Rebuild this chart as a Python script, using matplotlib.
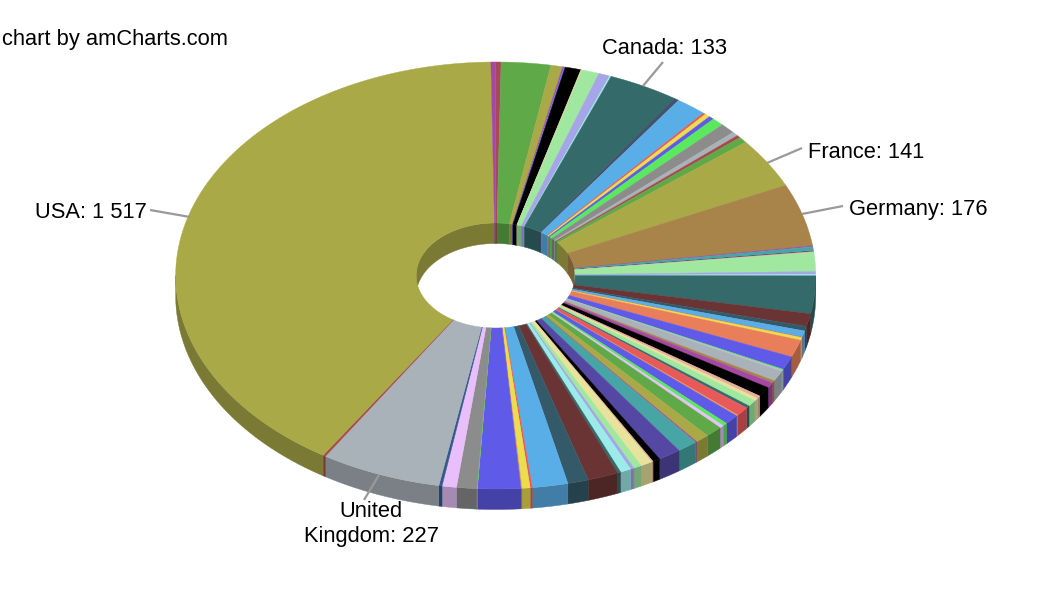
import numpy as np
import matplotlib
matplotlib.use("Agg")
import matplotlib.pyplot as plt
from matplotlib.colors import to_rgb

plt.rcParams['font.family'] = ['Liberation Sans', 'DejaVu Sans']

values = [10, 93, 22, 3, 2, 30, 2, 33, 21, 3, 133, 9, 58, 5, 10, 10, 23, 29, 12, 7, 17, 141, 176,
          3, 12, 1, 3, 53, 8, 4, 106, 36, 13, 18, 1, 8, 49, 38, 3, 3, 30, 7, 15, 28, 8, 8, 18, 7, 26, 3,
          28, 9, 8, 32, 26, 3, 38, 43, 14, 3, 22, 15, 7, 20, 6, 58, 39, 67, 4, 15, 2, 81, 1, 38, 27, 6,
          227, 5, 1517, 9]
colors = ['#A9485C', '#5FA948', '#A9A948', '#A94FA0', '#5F7AE8', '#000000', '#F0D8A0', '#A0E8A0', '#A5A5E8', '#9CEBE8',
          '#346A6A', '#45506A', '#5AAEE8', '#E85A5A', '#EBDD4D', '#5F5AE8', '#5AE85F', '#8C8C8C', '#AAB2B9', '#A94848',
          '#5FA948', '#A9A948', '#A8844A',
          '#A548A5', '#48A5A5', '#232350', '#E8AF9C', '#A0E8A0', '#A5A5E8', '#9CEBE8', '#346A6A', '#6A3434', '#345A6A',
          '#5AAEE8', '#E85A5A', '#EBDD4D', '#E87F5A', '#5F5AE8', '#5AE85F', '#C9B8D8', '#AAB2B9', '#A8844A', '#A548A5',
          '#000000', '#E8AF9C', '#E8E39C', '#A0E8A0', '#346A6A', '#E85A5A', '#E8A050', '#5F5AE8', '#5AE85F', '#E8BFFA',
          '#5FA948', '#A9A948', '#A94F8F', '#48A5A5', '#5548A5', '#000000', '#E8AF9C', '#E8E39C', '#A0E8A0', '#A5A5E8',
          '#9CEBE8', '#346A6A', '#6A3434', '#345A6A', '#5AAEE8', '#E85A5A', '#EBDD4D', '#E8A050', '#5F5AE8', '#5AE85F',
          '#8C8C8C', '#E8BFFA', '#345A8A', '#AAB2B9', '#A94848', '#A9A948', '#A548A5']
labelled = {'USA': 1517, 'United\nKingdom': 227, 'Germany': 176, 'France': 141, 'Canada': 133}
label_text_pos = {'USA': (147, 212.5, 'right', 'center'), 'United\nKingdom': (371, 524, 'center', 'center'),
                  'Germany': (849, 210, 'left', 'center'), 'France': (808, 152, 'left', 'center'),
                  'Canada': (665, 48, 'center', 'center')}
label_lines = {'USA': ((150, 190), (210, 217)), 'United\nKingdom': ((364, 379), (500, 475)),
               'Germany': ((843, 802), (206, 214)), 'France': ((802, 767), (148, 163)),
               'Canada': ((663, 643), (62, 86))}

CX, CY = 495.7, 275.5
RX, RY = 320.0, 213.5
IRX, IRY = 79.5, 52.5
DEPTH = 20.5
SIDE = 0.72
FONT = 15.75

fig = plt.figure(figsize=(10.6, 5.98), dpi=100)
ax = fig.add_axes([0, 0, 1, 1])
ax.set_xlim(0, 1060)
ax.set_ylim(598, 0)
ax.axis('off')

def arc(a, b, rx, ry, dy=0.0):
    th = np.radians(np.linspace(a, b, max(3, int(abs(b - a) * 2) + 2)))
    return CX + rx * np.sin(th), CY - ry * np.cos(th) + dy

def dark(c):
    return tuple(v * SIDE for v in to_rgb(c))

v = np.array(values, float)
edges = np.concatenate([[0], np.cumsum(v)]) / v.sum() * 360

# inner back wall
for a, b, c in zip(edges[:-1], edges[1:], colors):
    for lo, hi in ((max(a, 0), min(b, 90)), (max(a, 270), min(b, 360))):
        if hi > lo:
            x, y = arc(lo, hi, IRX, IRY)
            x2, y2 = arc(hi, lo, IRX, IRY, DEPTH)
            ax.fill(np.r_[x, x2], np.r_[y, y2], color=dark(c), lw=0.3, zorder=1)
# outer front wall
for a, b, c in zip(edges[:-1], edges[1:], colors):
    lo, hi = max(a, 90), min(b, 270)
    if hi > lo:
        x, y = arc(lo, hi, RX, RY)
        x2, y2 = arc(hi, lo, RX, RY, DEPTH)
        ax.fill(np.r_[x, x2], np.r_[y, y2], color=dark(c), lw=0.3, zorder=2)
# top faces
for a, b, c in zip(edges[:-1], edges[1:], colors):
    x, y = arc(a, b, RX, RY)
    x2, y2 = arc(b, a, IRX, IRY)
    ax.fill(np.r_[x, x2], np.r_[y, y2], color=c, lw=0.3, zorder=3)

def fmt(n):
    return f"{n:,}".replace(",", " ")

for name, val in labelled.items():
    lx, ly = label_lines[name]
    ax.plot(lx, ly, color='#999999', lw=1.6, zorder=4, solid_capstyle='butt')
    tx, ty, ha, va = label_text_pos[name]
    ax.text(tx, ty, f"{name}: {fmt(val)}", ha=ha, va=va, fontsize=FONT, color='black',
            linespacing=1.26, zorder=5, multialignment='center')

ax.text(2, 40, "chart by amCharts.com", ha='left', va='center', fontsize=FONT, color='black', zorder=5)

fig.savefig('out.png', dpi=100, facecolor='white')
